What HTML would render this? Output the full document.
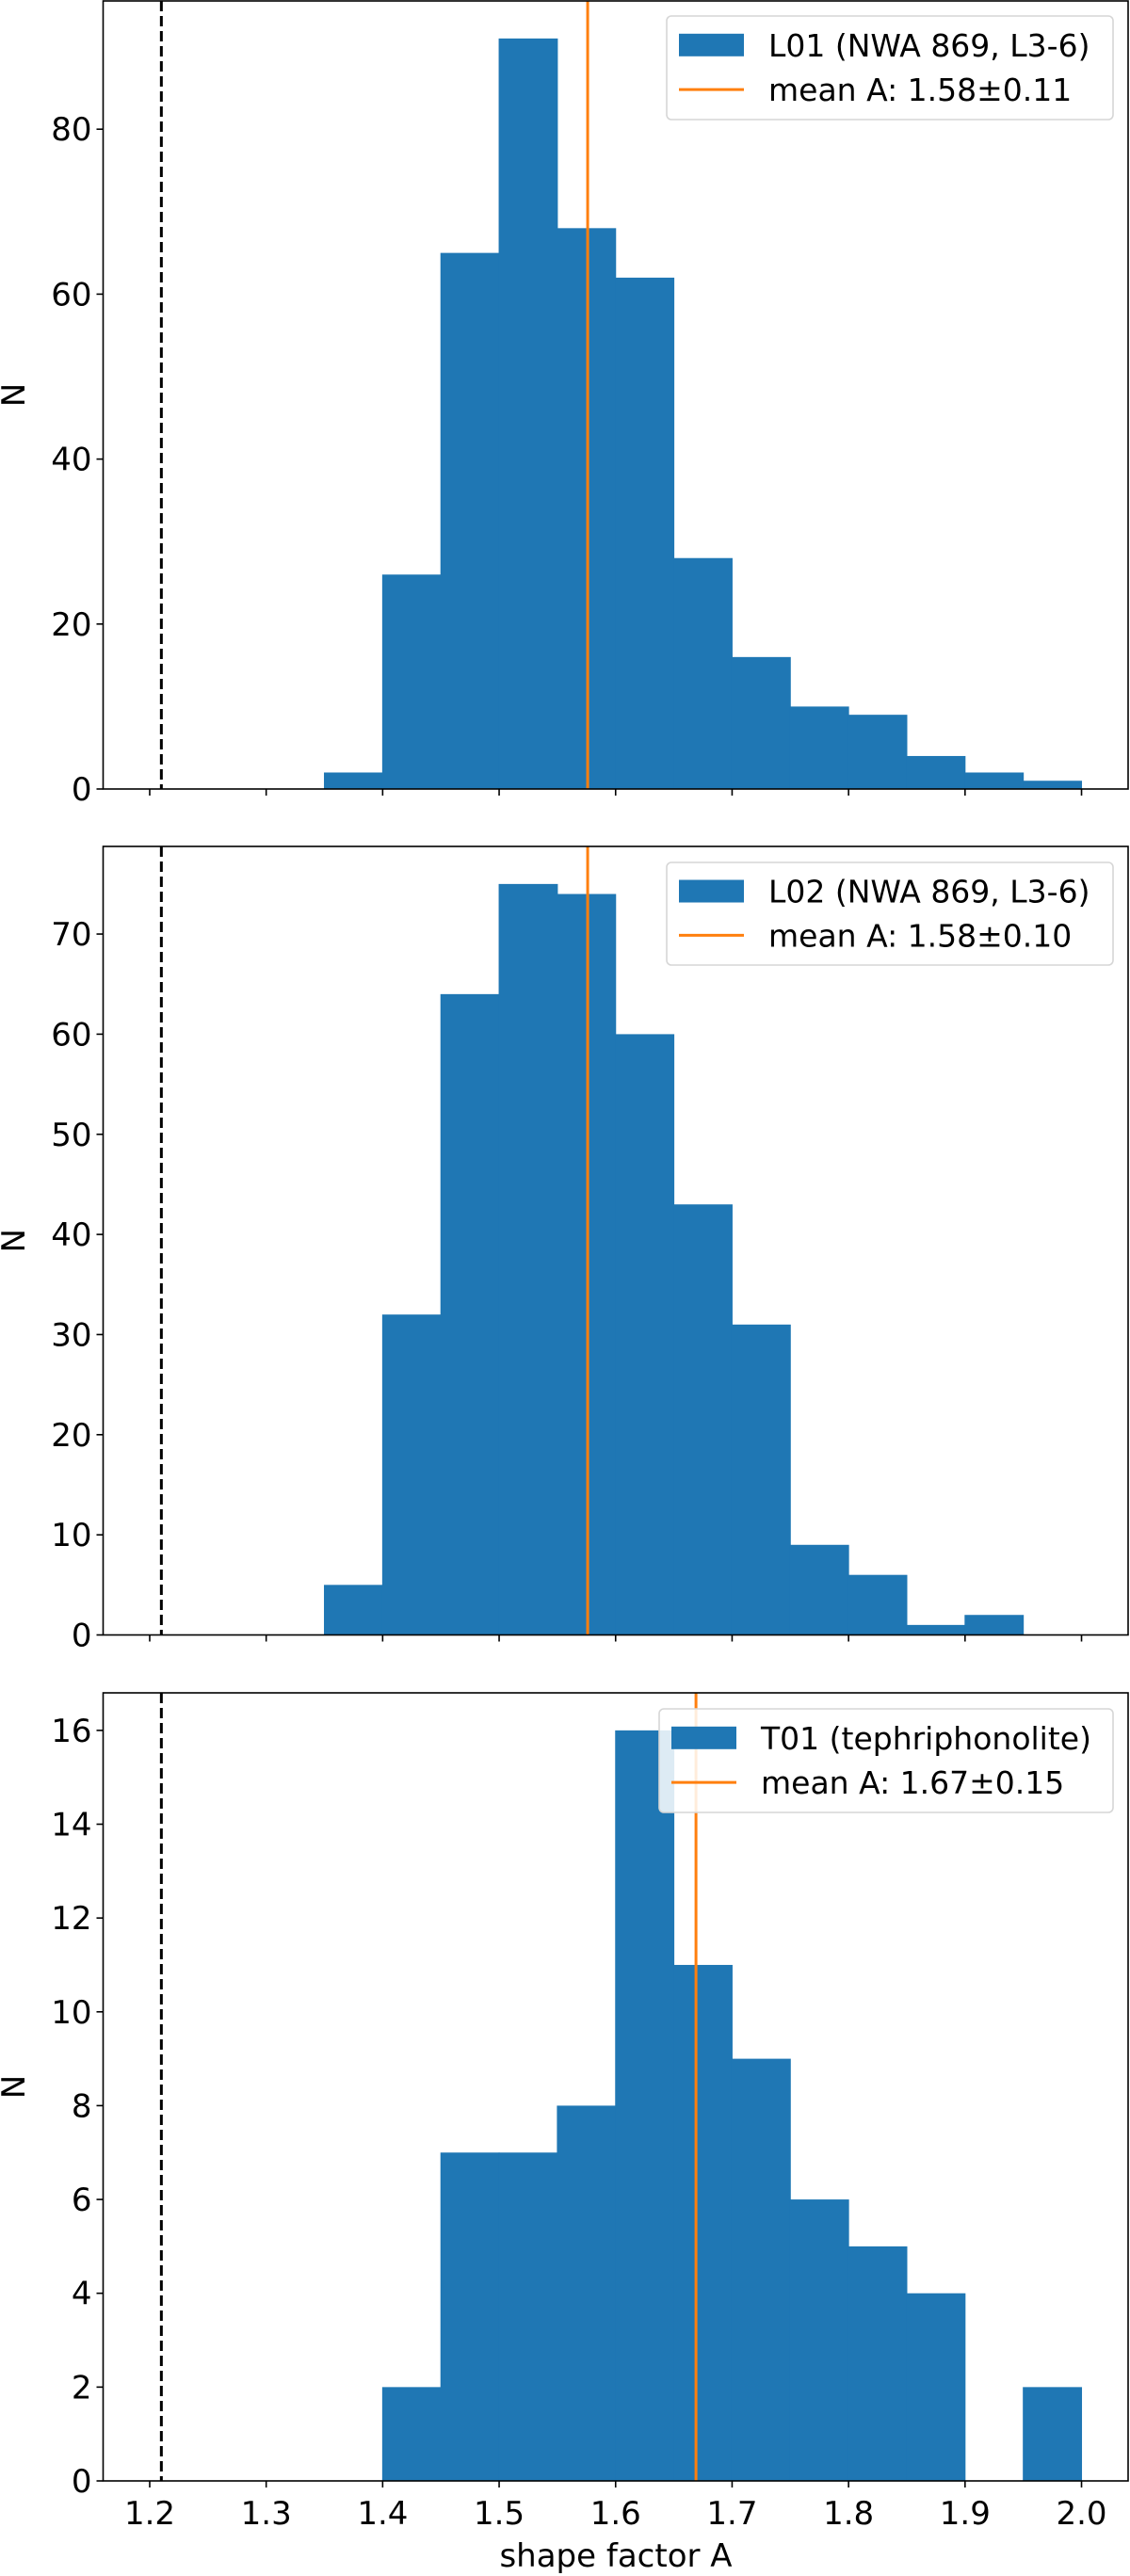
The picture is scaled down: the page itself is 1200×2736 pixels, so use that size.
<!DOCTYPE html>
<html><head><meta charset="utf-8"><style>
body{margin:0;background:#fff}
svg{display:block;font-family:"DejaVu Sans","Liberation Sans",sans-serif}
</style></head><body>
<svg id="chart" width="1200" height="2736" viewBox="0 0 1200 2736" xmlns="http://www.w3.org/2000/svg"></svg>
<script>
const binStarts1 = [1.35,1.40,1.45,1.50,1.55,1.60,1.65,1.70,1.75,1.80,1.85,1.90,1.95];
const counts1 = [2,26,65,91,68,62,28,16,10,9,4,2,1];
const binStarts2 = [1.35,1.40,1.45,1.50,1.55,1.60,1.65,1.70,1.75,1.80,1.85,1.90,1.95];
const counts2 = [5,32,64,75,74,60,43,31,9,6,1,2,0];
const binStarts3 = [1.40,1.45,1.50,1.55,1.60,1.65,1.70,1.75,1.80,1.85,1.90,1.95];
const counts3 = [2,7,7,8,16,11,9,6,5,4,0,2];
const binWidth = 0.05;
const means = [1.576,1.576,1.669];
const refLine = 1.21;
const labels = ["L01 (NWA 869, L3-6)","L02 (NWA 869, L3-6)","T01 (tephriphonolite)"];
const meanLabels = ["mean A: 1.58±0.11","mean A: 1.58±0.10","mean A: 1.67±0.15"];
const yTicks1 = [0,20,40,60,80];
const yTicks2 = [0,10,20,30,40,50,60,70];
const yTicks3 = [0,2,4,6,8,10,12,14,16];
const xTicks = [1.2,1.3,1.4,1.5,1.6,1.7,1.8,1.9,2.0];

const NS="http://www.w3.org/2000/svg";
const svg=document.getElementById('chart');
function el(tag,attrs,parent){const e=document.createElementNS(NS,tag);for(const k in attrs)e.setAttribute(k,attrs[k]);(parent||svg).appendChild(e);return e;}
const L=109.5,R=1198,xmin=1.16,xmax=2.04;
const xs=v=>L+(v-xmin)/(xmax-xmin)*(R-L);
const panels=[
 {top:1,bot:838,starts:binStarts1,counts:counts1,ticks:yTicks1,ymax:91*1.05,leg:[708,17,1182,127]},
 {top:899,bot:1736.5,starts:binStarts2,counts:counts2,ticks:yTicks2,ymax:75*1.05,leg:[708,916,1182,1025]},
 {top:1798,bot:2635,starts:binStarts3,counts:counts3,ticks:yTicks3,ymax:16*1.05,leg:[700,1815,1182,1925]}
];
panels.forEach((p,i)=>{
 const g=el('g',{});
 
 
 const ys=v=>p.bot-v/p.ymax*(p.bot-p.top);
 p.starts.forEach((s,j)=>{
  if(p.counts[j]<=0)return;
  const r=el('rect',{x:xs(s)-0.5,y:ys(p.counts[j]),width:xs(s+binWidth)-xs(s)+1,height:p.bot-ys(p.counts[j]),fill:'#1f77b4'},g);
  
  
 });
 const d=el('line',{x1:xs(refLine),x2:xs(refLine),y1:p.top,y2:p.bot,stroke:'#000','stroke-width':3,'stroke-dasharray':'11,5'},g);
 
 
 const m=el('line',{x1:xs(means[i]),x2:xs(means[i]),y1:p.top,y2:p.bot,stroke:'#ff7f0e','stroke-width':3},g);
 
 
 const fr=el('rect',{x:L,y:p.top,width:R-L,height:p.bot-p.top,fill:'none',stroke:'#000','stroke-width':1.6},g);
 
 
 p.ticks.forEach(t=>{
  const y=ys(t);
  el('line',{x1:L-7,x2:L,y1:y,y2:y,stroke:'#000','stroke-width':1.6},g);
  const tx=el('text',{x:L-12,y:y+12,'font-size':34,'text-anchor':'end',fill:'#000'},g);
  tx.textContent=t;
  
  
 });
 xTicks.forEach(t=>{
  el('line',{x1:xs(t),x2:xs(t),y1:p.bot,y2:p.bot+7,stroke:'#000','stroke-width':1.6},g);
  if(i===2){
   const tx=el('text',{x:xs(t),y:p.bot+46,'font-size':34,'text-anchor':'middle',fill:'#000'},g);
   tx.textContent=t.toFixed(1);
   
   
  }
 });
 const yl=el('text',{x:0,y:0,'font-size':34,'text-anchor':'middle',fill:'#000',transform:`translate(26,${(p.top+p.bot)/2}) rotate(-90)`},g);
 yl.textContent='N';
 
 
 const [lx0,ly0,lx1,ly1]=p.leg;
 const lg=el('g',{},g);
 
 
 el('rect',{x:lx0,y:ly0,width:lx1-lx0,height:ly1-ly0,rx:5,fill:'#fff','fill-opacity':0.85,stroke:'#d6d6d6','stroke-width':1.6},lg);
 const r1=(ly0*0.72+ly1*0.28)+0, r2=ly0+(ly1-ly0)*0.71;
 el('rect',{x:lx0+13,y:r1-12,width:69,height:24,fill:'#1f77b4'},lg);
 el('line',{x1:lx0+13,x2:lx0+82,y1:r2,y2:r2,stroke:'#ff7f0e','stroke-width':3},lg);
 const t1=el('text',{x:lx0+108,y:r1+12,'font-size':33,fill:'#000'},lg);
 t1.textContent=labels[i];
 
 
 const t2=el('text',{x:lx0+108,y:r2+12,'font-size':33,fill:'#000'},lg);
 t2.textContent=meanLabels[i];
 
 
});
const xl=el('text',{x:654,y:2726,'font-size':34,'text-anchor':'middle',fill:'#000'});
xl.textContent='shape factor A';


</script>
</body></html>
